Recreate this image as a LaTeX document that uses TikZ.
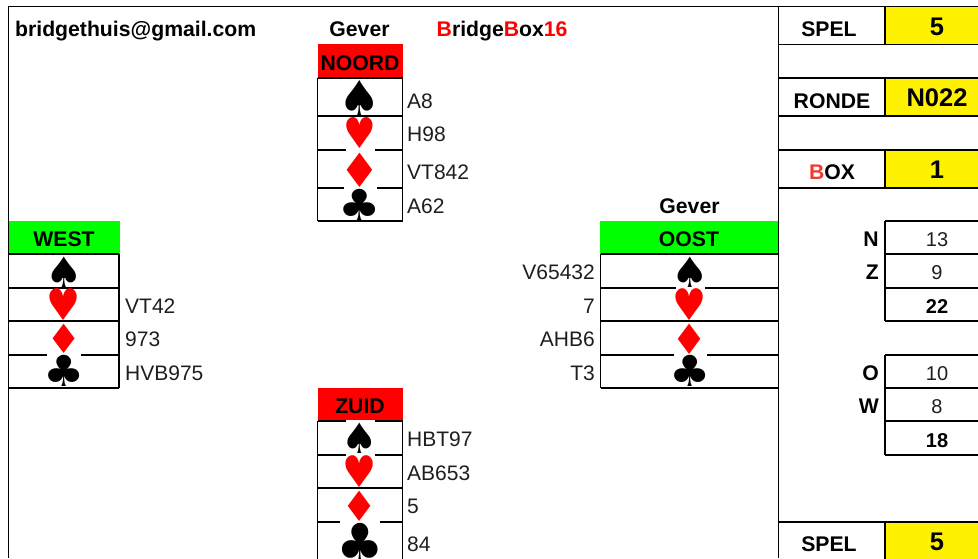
\documentclass[tikz,border=0pt]{standalone}
\usepackage{fontspec}
\setmainfont{Liberation Sans}
\newfontfamily\suitfont{DejaVu Sans}
\definecolor{boxred}{RGB}{238,60,48}
\definecolor{inkgrey}{RGB}{30,30,30}
\tikzset{
	grid line/.style={line width=1.1pt, draw=black},
	plain/.style={anchor=base, inner sep=0pt, text=inkgrey, font=\fontsize{21}{25}\selectfont},
	head/.style={anchor=base, inner sep=0pt, font=\bfseries\fontsize{21.2}{25}\selectfont},
	cards/.style={plain, anchor=base west},
	cardsleft/.style={plain, anchor=base east},
	score/.style={plain, font=\fontsize{20}{24}\selectfont},
	scorebold/.style={head, font=\bfseries\fontsize{20}{24}\selectfont},
	seat/.style={head, minimum width=#1, text height=25pt, text depth=8pt},
	bigcell/.style={head, fill=yellow, minimum width=104, text height=#1, text depth=10pt, font=\bfseries\fontsize{25.5}{29}\selectfont},
	suit/.style={inner sep=0pt, font=\suitfont\fontsize{#1}{#1}\selectfont}
}
\begin{document}
\begin{tikzpicture}[x=1pt,y=-1pt]
	\useasboundingbox (0,0) rectangle (978,558);
	% yellow and coloured cells first
	\node[seat=85, fill=red, text height=26pt] (noord) at (360,70) {NOORD};
	\node[seat=85, fill=red] (zuid) at (360,413) {ZUID};
	\node[seat=111, fill=green] (west) at (64,246) {WEST};
	\node[seat=178, fill=green] (oost) at (689,246) {OOST};
	\node[bigcell=29pt] (spel) at (937,35) {5};
	\node[bigcell=28pt] (ronde) at (937,106) {N022};
	\node[bigcell=28pt] (box) at (937,178) {1};
	\node[bigcell=28pt] (spelonder) at (937,550) {5};
	% frame
	\draw[grid line] (8,6.5) -- (978,6.5);
	\draw[grid line] (8.5,6) -- (8.5,558);
	\draw[grid line] (778.5,6) -- (778.5,558);
	% hands
	\foreach \left/\right/\rows in {317.5/402.5/{78,116,150,188,221}, 8.5/119/{254,288,321,355,388}, 600.5/778.5/{254,288,321,355,388}, 317.5/402.5/{421,455,488,522}}
		\foreach \row in \rows
			\draw[grid line] (\left,\row) -- (\right,\row);
	\foreach \left/\top/\bottom in {317.5/78/221, 402.5/78/221, 119/254/388, 600.5/254/388, 317.5/421/560, 402.5/421/560}
		\draw[grid line] (\left,\top) -- (\left,\bottom);
	% right column
	\foreach \row in {6.5,44.5,78,116,150,188,522}
		\draw[grid line] (778.5,\row) -- (978,\row);
	\foreach \top/\bottom in {6/44.5,78/116,150/188,522/560,221/321,355/455}
		\draw[grid line] (885,\top) -- (885,\bottom);
	\foreach \row in {221,254,288,321,355,388,421,455}
		\draw[grid line] (885,\row) -- (978,\row);
	% gaps round the suit pictures
	\foreach \gapx/\gapy/\gapw in {360/150/29, 360/188/33, 690/288/29, 690/355/33, 360/421/29, 360/455/29, 360/522/40, 64/355/34}
		\fill[white] (\gapx-\gapw/2,\gapy-1.5) rectangle +(\gapw,3);
	% suits
	\foreach \nm/\gx/\gy/\glyph/\hue/\size/\sx/\sy in {
		ns/360/98/♠/black/43/1.1/1.15, nh/360/133/♥/red/38/.96/1.12, nd/360/170/♦/red/43/1.06/1.1, nc/360/205/♣/black/40/1.18/1.07,
		ws/64/272/♠/black/38/1.1/1.1, wh/64/305/♥/red/38/1/1.15, wd/64/339/♦/red/37/1.06/1.09, wc/64/371/♣/black/39/1.18/1.1,
		os/690/272/♠/black/38/1.1/1.1, oh/690/305/♥/red/38/1/1.15, od/690/339.5/♦/red/38/1.06/1.1, oc/690/371/♣/black/39/1.18/1.1,
		zs/360/438/♠/black/38/1.07/1.1, zh/360/472/♥/red/38/1/1.15, zd/360/506/♦/red/38/1.06/1.1, zc/360/543/♣/black/46/1.15/1.2}
		\node[suit=\size, text=\hue] (\nm) at (\gx,\gy) {\scalebox{\sx}[\sy]{\glyph}};
	% card values
	\foreach \nm/\x/\y/\txt in {na/407/108/A8, nb/407/141/H98, nc/407/179/VT842, nd/407/213/A62,
		wb/125/313/VT42, wc/125/346/973, wd/125/380/HVB975,
		za/407/446/HBT97, zb/407/480/AB653, zc/407/513/5, zd/407/551/84}
		\node[cards] (val\nm) at (\x,\y) {\txt};
	\foreach \nm/\y/\txt in {oa/279/V65432, ob/313/7, oc/346/AHB6, od/380/T3}
		\node[cardsleft] (val\nm) at (595,\y) {\txt};
	% headings
	\node[head, anchor=base west] (mail) at (15,36) {bridgethuis@gmail.com};
	\node[head] (gever) at (359.5,36) {Gever};
	\node[head, anchor=base west] (titel) at (436.5,36) {\textcolor{red}{B}ridge\textcolor{red}{B}ox\textcolor{red}{16}};
	\node[head] (geveroost) at (689.5,213) {Gever};
	\node[head] (spellabel) at (829,36) {SPEL};
	\node[head] (rondelabel) at (832,108) {RONDE};
	\node[head] (boxlabel) at (832,179) {\textcolor{boxred}{B}OX};
	\node[head] (spelonderlabel) at (829,551) {SPEL};
	% scores
	\foreach \nm/\y/\txt in {n/246/N, z/279/Z, o/380/O, w/413/W}
		\node[head, anchor=base east] (lab\nm) at (879,\y) {\txt};
	\foreach \nm/\y/\txt in {n/246/13, z/279/9, o/380/10, w/413/8}
		\node[score] (score\nm) at (937,\y) {\txt};
	\node[scorebold] (sumnz) at (937,313) {22};
	\node[scorebold] (sumow) at (937,447) {18};
\end{tikzpicture}
\end{document}
